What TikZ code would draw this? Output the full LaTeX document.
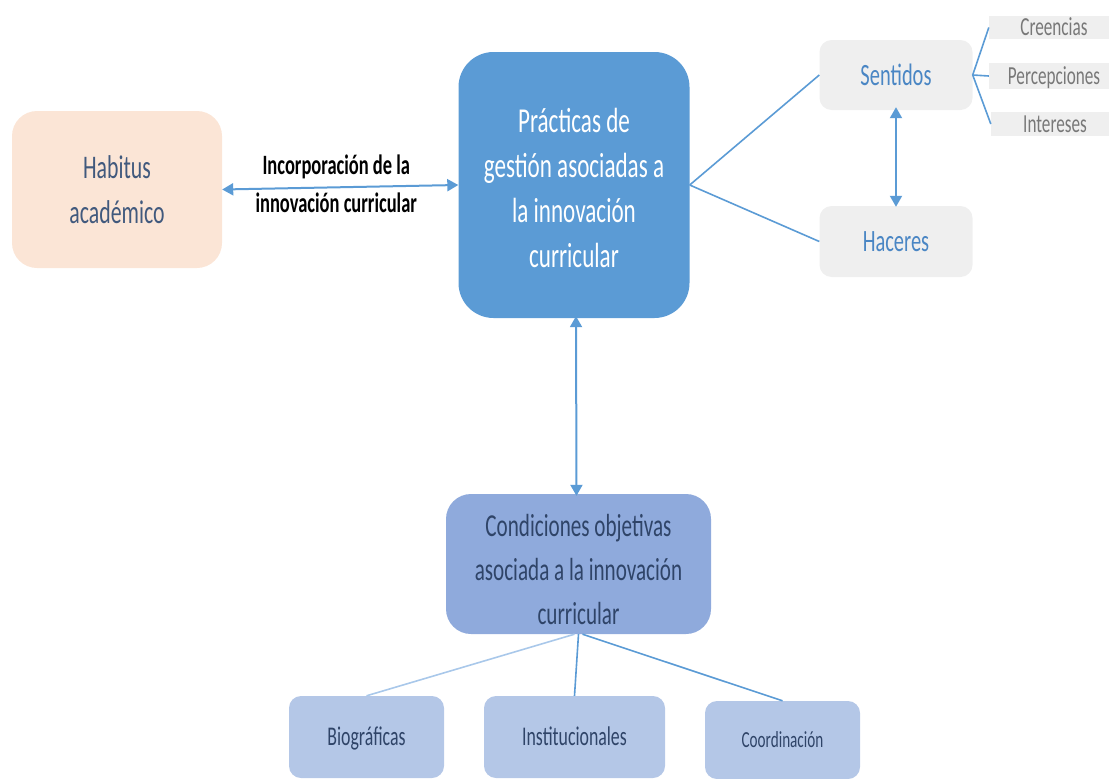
\documentclass[tikz,border=0pt]{standalone}
\usepackage{fontspec}
\setmainfont{Carlito}[FakeStretch=0.66]
\usetikzlibrary{arrows.meta}
\definecolor{peach}{HTML}{FBE5D6}
\definecolor{habtext}{HTML}{41597D}
\definecolor{mainblue}{HTML}{5B9BD5}
\definecolor{lightgray}{HTML}{EFEFEF}
\definecolor{senttext}{HTML}{4A86C4}
\definecolor{graytext}{HTML}{787878}
\definecolor{condfill}{HTML}{8FAADC}
\definecolor{subfill}{HTML}{B4C7E7}
\definecolor{navytext}{HTML}{2F4468}
\definecolor{paleline}{HTML}{A9C8EA}
\tikzset{
  pbox/.style={inner sep=0pt, align=center},
  oneline/.style={text height=#1, text depth=0pt},
  linkline/.style={draw=mainblue, line width=1.6pt},
  dblarrow/.style={draw=mainblue, line width=2pt, {Triangle[length=11pt,width=12pt]}-{Triangle[length=11pt,width=12pt]}},
}
\begin{document}
\begin{tikzpicture}[x=1pt,y=-1pt]
\useasboundingbox (0,0) rectangle (1109,779);
\clip (0,0) rectangle (1109,779);

% nodes
\node[pbox, fill=peach, text=habtext, minimum width=210pt, minimum height=157pt,
      rounded corners=25pt, font=\fontsize{33}{45}\selectfont] (habitus) at (117,189.5) {Habitus\\académico};
\node[pbox, fill=mainblue, text=white, minimum width=231pt, minimum height=266pt,
      rounded corners=35pt, font=\fontsize{35}{45}\selectfont] (main) at (574,185)
      {\rule{0pt}{31pt}Prácticas de\\gestión asociadas a\\la innovación\\curricular};
\node[pbox, oneline=20pt, fill=lightgray, text=senttext, minimum width=153pt, minimum height=70pt,
      rounded corners=12pt, font=\fontsize{31}{36}\selectfont] (sentidos) at (896,75) {Sentidos};
\node[pbox, oneline=20pt, fill=lightgray, text=senttext, minimum width=153pt, minimum height=71pt,
      rounded corners=12pt, font=\fontsize{31}{36}\selectfont] (haceres) at (896,241.5) {Haceres};
\node[pbox, oneline=16.7pt, fill=lightgray, text=graytext, minimum width=130pt, minimum height=23pt,
      font=\fontsize{26}{30}\selectfont] (creencias) at (1054,27.5) {Creencias};
\node[pbox, oneline=16.7pt, fill=lightgray, text=graytext, minimum width=130pt, minimum height=26pt,
      font=\fontsize{26}{30}\selectfont] (percepciones) at (1054,76) {Percepciones};
\node[pbox, oneline=16.7pt, fill=lightgray, text=graytext, minimum width=128pt, minimum height=24pt,
      font=\fontsize{26}{30}\selectfont] (intereses) at (1055,124) {Intereses};
\node[pbox, fill=condfill, text=navytext, minimum width=265pt, minimum height=140pt,
      rounded corners=25pt, font=\fontsize{32}{44}\selectfont] (cond) at (578.5,564)
      {\rule{0pt}{34pt}Condiciones objetivas\\asociada a la innovación\\curricular};
\node[pbox, oneline=17.4pt, fill=subfill, text=navytext, minimum width=155pt, minimum height=82pt,
      rounded corners=12pt, font=\fontsize{27}{30}\selectfont] (bio) at (366.5,737) {Biográficas};
\node[pbox, oneline=17.4pt, fill=subfill, text=navytext, minimum width=181pt, minimum height=82pt,
      rounded corners=12pt, font=\fontsize{27}{30}\selectfont] (inst) at (574.5,737) {Institucionales};
\node[pbox, oneline=14.8pt, fill=subfill, text=navytext, minimum width=155pt, minimum height=78pt,
      rounded corners=12pt, font=\fontsize{23}{30}\selectfont] (coord) at (782.5,740) {Coordinación};

% connectors
\draw[dblarrow] (habitus.east) -- node[font=\bfseries\fontsize{28}{38}\selectfont, text=black, align=center, inner sep=0pt, xshift=-4pt, yshift=3pt]
      (lbl) {Incorporación de la\\innovación curricular} (main.west);
\draw[linkline] (main.east) -- (sentidos.west);
\draw[linkline] (main.east) -- (haceres.west);
\draw[dblarrow] ([yshift=3pt]sentidos.south) -- ([yshift=-1pt]haceres.north);
\draw[linkline] (sentidos.east) -- (creencias.west);
\draw[linkline] (sentidos.east) -- (percepciones.west);
\draw[linkline] (sentidos.east) -- (intereses.west);
\draw[dblarrow] ([xshift=2pt,yshift=2pt]main.south) -- ([xshift=-2pt,yshift=-2pt]cond.north);
\draw[linkline, draw=paleline] ([xshift=-4pt]cond.south) -- (bio.north);
\draw[linkline] (cond.south) -- (inst.north);
\draw[linkline] ([xshift=4pt]cond.south) -- (coord.north);
\end{tikzpicture}
\end{document}
